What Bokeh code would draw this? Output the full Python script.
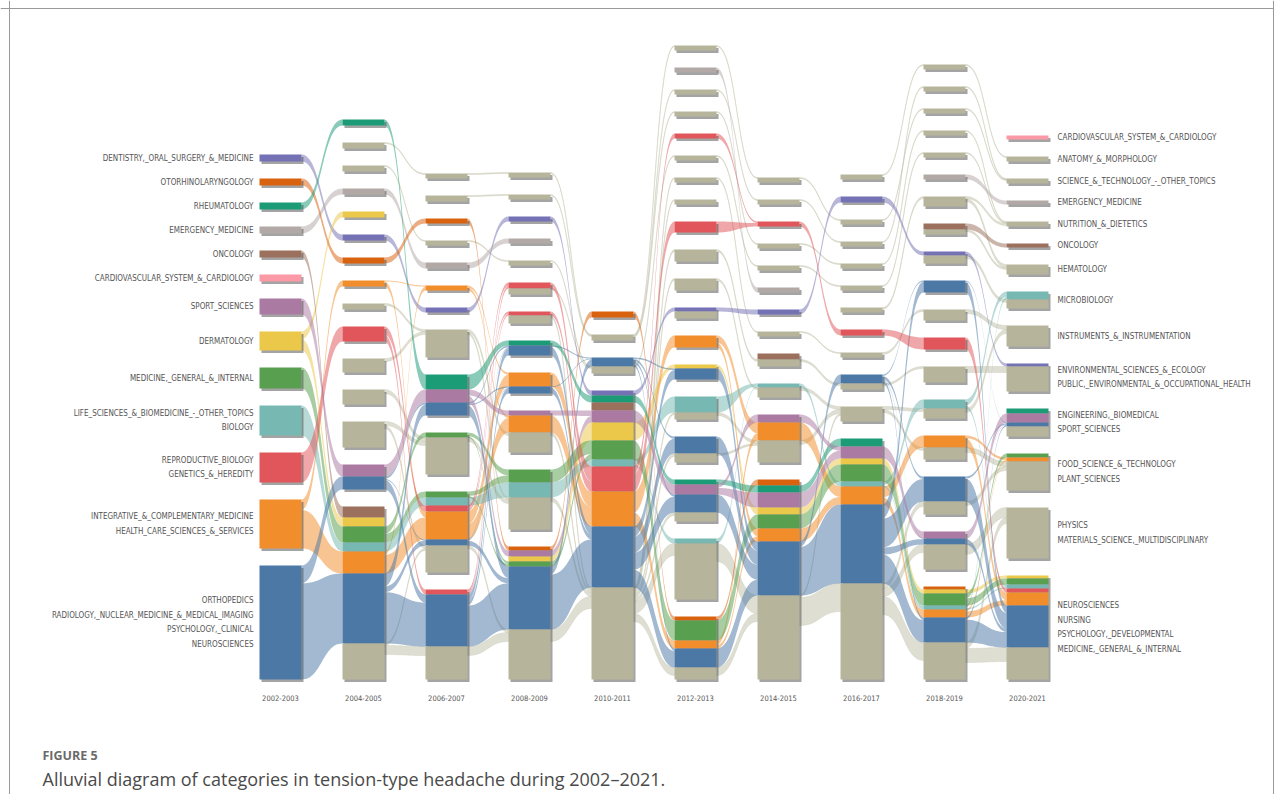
import numpy as np
from collections import defaultdict
from bokeh.plotting import figure
from bokeh.models import Range1d, ColumnDataSource, Span
from bokeh.embed import file_html
from bokeh.resources import INLINE
from bokeh.core.properties import value

# ---------------- data ----------------
periods = ["2002-2003", "2004-2005", "2006-2007", "2008-2009", "2010-2011",
           "2012-2013", "2014-2015", "2016-2017", "2018-2019", "2020-2021"]

# each node = list of (stream, size) segments, listed top to bottom
nodes_2002 = [
    [("dent", 7)], [("oto", 7)], [("rheum", 7)], [("emerg", 7)], [("onc", 7)], [("cardio", 7)],
    [("sport", 16)], [("derm", 19)], [("medgen", 21)], [("life", 30)], [("repro", 30)],
    [("integ", 49)], [("ortho", 114)],
]
nodes_2004 = [
    [("rheum", 6)], [("other", 6)], [("other", 6)], [("emerg", 6)], [("derm", 6)], [("dent", 6)],
    [("oto", 6)], [("integ", 6)], [("other", 6)], [("repro", 15)], [("other", 14)], [("other", 15)],
    [("other", 26)], [("sport", 12), ("ortho", 13)],
    [("onc", 11), ("derm", 9), ("medgen", 16), ("life", 9), ("integ", 22), ("ortho", 70), ("other", 36)],
]
nodes_2006 = [
    [("other", 5)], [("other", 6)], [("oto", 5)], [("other", 5)], [("emerg", 6)], [("integ", 5)],
    [("dent", 5)], [("other", 28)],
    [("rheum", 15), ("sport", 13), ("ortho", 13)],
    [("medgen", 5), ("other", 37)],
    [("medgen", 6), ("life", 8), ("repro", 6), ("integ", 28), ("ortho", 6), ("other", 27)],
    [("repro", 5), ("ortho", 52), ("other", 33)],
]
nodes_2008 = [
    [("other", 5)], [("other", 5)], [("dent", 5)], [("emerg", 5)], [("other", 5)],
    [("repro", 6), ("other", 6)], [("repro", 4), ("other", 8)],
    [("rheum", 5), ("ortho", 10)], [("integ", 14), ("ortho", 7)],
    [("sport", 5), ("integ", 17), ("other", 20)],
    [("medgen", 13), ("life", 15), ("other", 32)],
    [("oto", 4), ("sport", 6), ("derm", 5), ("medgen", 5), ("ortho", 63), ("other", 50)],
]
nodes_2010 = [
    [("oto", 6)], [("other", 6)], [("ortho", 9), ("other", 7)],
    [("dent", 5), ("rheum", 7), ("onc", 8), ("sport", 12), ("derm", 18), ("medgen", 19), ("life", 7),
     ("repro", 25), ("integ", 35), ("ortho", 61), ("other", 92)],
]
nodes_2012 = [
    [("other", 5)], [("emerg", 5)], [("other", 5)], [("other", 5)], [("repro", 5)], [("other", 5)],
    [("other", 5)], [("other", 5)], [("repro", 11)], [("other", 12)], [("other", 12)],
    [("dent", 4), ("other", 7)], [("integ", 12)], [("derm", 4), ("ortho", 11)],
    [("life", 16), ("other", 7)], [("ortho", 17), ("other", 9)],
    [("rheum", 5), ("sport", 10), ("ortho", 18), ("other", 9)],
    [("life", 5), ("other", 56)],
    [("oto", 4), ("medgen", 20), ("integ", 8), ("ortho", 19), ("other", 12)],
]
nodes_2014 = [
    [("other", 5)], [("other", 5)], [("repro", 5)], [("other", 5)], [("other", 5)], [("emerg", 5)],
    [("dent", 5)], [("other", 5)], [("onc", 6), ("other", 7)], [("life", 4), ("other", 10)],
    [("sport", 8), ("integ", 18), ("other", 22)],
    [("oto", 6), ("rheum", 7), ("sport", 15), ("derm", 7), ("medgen", 14), ("integ", 13),
     ("ortho", 54), ("other", 84)],
]
nodes_2016 = [
    [("other", 5)], [("dent", 6)], [("other", 5)], [("other", 5)], [("other", 5)], [("other", 5)],
    [("other", 5)], [("repro", 6)], [("other", 5)], [("ortho", 9), ("other", 6)], [("other", 15)],
    [("rheum", 8), ("sport", 12), ("derm", 6), ("medgen", 17), ("life", 5), ("integ", 18),
     ("ortho", 79), ("other", 96)],
]
nodes_2018 = [
    [("other", 5)], [("other", 5)], [("other", 5)], [("other", 5)], [("other", 5)], [("emerg", 5)],
    [("other", 10)], [("onc", 6), ("other", 5)], [("dent", 4), ("other", 8)], [("ortho", 12)],
    [("other", 11)], [("repro", 12)], [("other", 16)], [("life", 9), ("other", 10)],
    [("integ", 12), ("other", 12)], [("ortho", 25), ("other", 13)],
    [("sport", 7), ("ortho", 6), ("other", 25)],
    [("oto", 3), ("derm", 4), ("medgen", 12), ("life", 4), ("integ", 8), ("ortho", 25), ("other", 37)],
]
nodes_2020 = [
    [("cardio", 4)], [("other", 5)], [("other", 5)], [("emerg", 4)], [("other", 5)], [("onc", 4)],
    [("other", 10)], [("life", 8), ("other", 9)], [("other", 21)], [("dent", 3), ("other", 25)],
    [("rheum", 5), ("sport", 9), ("ortho", 4), ("other", 10)],
    [("medgen", 4), ("integ", 4), ("other", 29)],
    [("other", 51)],
    [("derm", 3), ("medgen", 6), ("life", 4), ("repro", 4), ("integ", 13), ("ortho", 42), ("other", 32)],
]

# unhighlighted (grey) flows: (from period index, from node, to node, size)
gray_links = [
    (1, 1, 0, 1), (1, 2, 3, 1), (1, 8, 7, 2), (1, 10, 7, 3), (1, 11, 9, 4), (1, 12, 9, 4),
    (1, 12, 10, 3), (1, 14, 11, 9), (1, 14, 10, 2),
    (2, 0, 0, 1), (2, 1, 1, 1), (2, 3, 4, 1), (2, 7, 9, 3), (2, 7, 10, 2), (2, 9, 10, 4),
    (2, 10, 11, 3), (2, 11, 11, 9),
    (3, 0, 1, 1), (3, 1, 1, 1), (3, 4, 2, 1), (3, 5, 2, 1), (3, 6, 3, 2), (3, 9, 3, 3),
    (3, 10, 3, 4), (3, 11, 3, 12),
    (4, 1, 0, 1), (4, 1, 2, 1), (4, 1, 3, 1), (4, 2, 5, 1), (4, 3, 6, 1), (4, 3, 7, 1),
    (4, 3, 9, 2), (4, 3, 10, 2), (4, 3, 14, 2), (4, 3, 15, 3), (4, 3, 16, 3), (4, 3, 17, 12),
    (4, 3, 18, 8),
    (5, 0, 0, 1), (5, 2, 1, 1), (5, 3, 3, 1), (5, 5, 4, 1), (5, 6, 7, 1), (5, 9, 8, 2),
    (5, 10, 9, 2), (5, 14, 10, 3), (5, 15, 10, 2), (5, 17, 11, 18), (5, 18, 11, 8),
    (6, 0, 2, 1), (6, 1, 3, 1), (6, 3, 4, 1), (6, 4, 5, 1), (6, 7, 8, 1), (6, 8, 9, 2),
    (6, 9, 10, 3), (6, 10, 10, 4), (6, 11, 11, 28), (6, 11, 10, 2),
    (7, 0, 0, 1), (7, 2, 2, 1), (7, 3, 1, 1), (7, 4, 3, 1), (7, 5, 4, 1), (7, 6, 6, 2),
    (7, 8, 10, 2), (7, 9, 12, 2), (7, 10, 13, 3), (7, 10, 14, 3), (7, 11, 15, 5),
    (7, 11, 16, 8), (7, 11, 17, 18),
    (8, 0, 1, 1), (8, 1, 2, 1), (8, 2, 2, 1), (8, 3, 4, 1), (8, 4, 4, 1), (8, 6, 4, 2),
    (8, 6, 6, 3), (8, 7, 6, 2), (8, 8, 7, 3), (8, 10, 8, 4), (8, 12, 9, 6), (8, 13, 8, 4),
    (8, 14, 11, 5), (8, 15, 11, 4), (8, 16, 12, 10), (8, 17, 13, 14), (8, 17, 12, 6),
]

left_labels = [
    "DENTISTRY,_ORAL_SURGERY_&_MEDICINE", "OTORHINOLARYNGOLOGY", "RHEUMATOLOGY",
    "EMERGENCY_MEDICINE", "ONCOLOGY", "CARDIOVASCULAR_SYSTEM_&_CARDIOLOGY", "SPORT_SCIENCES",
    "DERMATOLOGY", "MEDICINE,_GENERAL_&_INTERNAL",
    "LIFE_SCIENCES_&_BIOMEDICINE_-_OTHER_TOPICS\nBIOLOGY",
    "REPRODUCTIVE_BIOLOGY\nGENETICS_&_HEREDITY",
    "INTEGRATIVE_&_COMPLEMENTARY_MEDICINE\nHEALTH_CARE_SCIENCES_&_SERVICES",
    "ORTHOPEDICS\nRADIOLOGY,_NUCLEAR_MEDICINE_&_MEDICAL_IMAGING\nPSYCHOLOGY,_CLINICAL\nNEUROSCIENCES",
]
right_labels = [
    "CARDIOVASCULAR_SYSTEM_&_CARDIOLOGY", "ANATOMY_&_MORPHOLOGY",
    "SCIENCE_&_TECHNOLOGY_-_OTHER_TOPICS", "EMERGENCY_MEDICINE", "NUTRITION_&_DIETETICS",
    "ONCOLOGY", "HEMATOLOGY", "MICROBIOLOGY", "INSTRUMENTS_&_INSTRUMENTATION",
    "ENVIRONMENTAL_SCIENCES_&_ECOLOGY\nPUBLIC,_ENVIRONMENTAL_&_OCCUPATIONAL_HEALTH",
    "ENGINEERING,_BIOMEDICAL\nSPORT_SCIENCES",
    "FOOD_SCIENCE_&_TECHNOLOGY\nPLANT_SCIENCES",
    "PHYSICS\nMATERIALS_SCIENCE,_MULTIDISCIPLINARY",
    "NEUROSCIENCES\nNURSING\nPSYCHOLOGY,_DEVELOPMENTAL\nMEDICINE,_GENERAL_&_INTERNAL",
]

fig_label = "FIGURE 5"
caption = "Alluvial diagram of categories in tension-type headache during 2002\u20132021."

# ---------------- styles ----------------
stream_colors = {
    "dent": "#7471b4", "oto": "#d9620e", "rheum": "#1c9c76", "emerg": "#b2a9a6",
    "onc": "#9b705c", "cardio": "#fb9aa6", "sport": "#ab7aa3", "derm": "#ebc84a",
    "medgen": "#58a04f", "life": "#77b8b2", "repro": "#e0565b", "integ": "#f28d2c",
    "ortho": "#4c78a6", "other": "#b6b59c",
}
NARROW = "DejaVu Sans Condensed"

columns = [nodes_2002, nodes_2004, nodes_2006, nodes_2008, nodes_2010,
           nodes_2012, nodes_2014, nodes_2016, nodes_2018, nodes_2020]

W, H = 1274, 794
X0, DX, BW, GAP, BASE = 280, 83, 42, 17.0, 679

p = figure(width=W, height=H, x_range=Range1d(0, W), y_range=Range1d(H, 0),
           output_backend="svg", toolbar_location=None, min_border=0)
p.axis.visible = False
p.grid.visible = False
p.outline_line_color = None

# ---------------- layout ----------------
layout = []
for c, nodes in enumerate(columns):
    sizes = [sum(s for _, s in n) for n in nodes]
    total = sum(sizes) + GAP * (len(nodes) - 1)
    y = BASE - total
    col = []
    for n in nodes:
        segs = []
        yy = y
        for key, s in n:
            segs.append([key, yy, yy + s])
            yy += s
        col.append(dict(top=y, bottom=yy, segs=segs))
        y = yy + GAP
    layout.append(col)


def xc(c):
    return X0 + DX * c


t = np.linspace(0, 1, 30)


def band(x0, a0, b0, x1, a1, b1):
    xm = (x0 + x1) / 2
    bx = (1 - t) ** 3 * x0 + 3 * (1 - t) ** 2 * t * xm + 3 * (1 - t) * t ** 2 * xm + t ** 3 * x1

    def by(u, v):
        return (1 - t) ** 3 * u + 3 * (1 - t) ** 2 * t * u + 3 * (1 - t) * t ** 2 * v + t ** 3 * v

    top = by(a0, a1)
    bot = by(b0, b1)
    return list(np.concatenate([bx, bx[::-1]])), list(np.concatenate([top, bot[::-1]]))


# grey flows
gxs, gys = [], []
links = []
for (c, i, j, v) in gray_links:
    sn, dn = layout[c][i], layout[c + 1][j]
    s = next((sg for sg in sn["segs"] if sg[0] == "other"), sn["segs"][-1])
    d = next((sg for sg in dn["segs"] if sg[0] == "other"), dn["segs"][-1])
    links.append(dict(c=c, s=s, d=d, v=v))
by_src, by_dst = defaultdict(list), defaultdict(list)
for k, L in enumerate(links):
    by_src[(L["c"], id(L["s"]))].append(k)
    by_dst[(L["c"] + 1, id(L["d"]))].append(k)
spos, dpos = {}, {}
for key, ks in by_src.items():
    ks.sort(key=lambda k: links[k]["d"][1])
    seg = links[ks[0]]["s"]
    tot = sum(links[k]["v"] for k in ks)
    f = min(1.0, (seg[2] - seg[1]) / tot)
    off = seg[1]
    for k in ks:
        w = links[k]["v"] * f
        spos[k] = (off, off + w)
        off += w
for key, ks in by_dst.items():
    ks.sort(key=lambda k: links[k]["s"][1])
    seg = links[ks[0]]["d"]
    tot = sum(links[k]["v"] for k in ks)
    f = min(1.0, (seg[2] - seg[1]) / tot)
    off = seg[1]
    for k in ks:
        w = links[k]["v"] * f
        dpos[k] = (off, off + w)
        off += w
for k, L in enumerate(links):
    bx, byy = band(xc(L["c"]) + BW / 2, spos[k][0], spos[k][1],
                   xc(L["c"] + 1) - BW / 2, dpos[k][0], dpos[k][1])
    gxs.append(bx)
    gys.append(byy)
p.patches(xs=gxs, ys=gys, fill_color="#c3c3af", fill_alpha=0.55,
          line_color="#c3c3af", line_alpha=0.6, line_width=0.6)

# coloured flows
cxs, cys, ccol = [], [], []
for c in range(len(columns) - 1):
    keys = sorted(set(k for n in columns[c] for k, _ in n) & set(k for n in columns[c + 1] for k, _ in n))
    for key in keys:
        if key == "other":
            continue
        srcs = [sg for nd in layout[c] for sg in nd["segs"] if sg[0] == key]
        dsts = [sg for nd in layout[c + 1] for sg in nd["segs"] if sg[0] == key]
        S = sum(s[2] - s[1] for s in srcs)
        D = sum(d[2] - d[1] for d in dsts)
        sp, dp = {}, {}
        for i, s in enumerate(srcs):
            off = s[1]
            for j, d in enumerate(dsts):
                w = (s[2] - s[1]) * (d[2] - d[1]) / D
                sp[(i, j)] = (off, off + w)
                off += w
        for j, d in enumerate(dsts):
            off = d[1]
            for i, s in enumerate(srcs):
                w = (d[2] - d[1]) * (s[2] - s[1]) / S
                dp[(i, j)] = (off, off + w)
                off += w
        for (i, j) in sp:
            bx, byy = band(xc(c) + BW / 2, sp[(i, j)][0], sp[(i, j)][1],
                           xc(c + 1) - BW / 2, dp[(i, j)][0], dp[(i, j)][1])
            cxs.append(bx)
            cys.append(byy)
            ccol.append(stream_colors[key])
p.patches(xs="xs", ys="ys", fill_color="color", fill_alpha=0.52, line_color=None,
          source=ColumnDataSource(dict(xs=cxs, ys=cys, color=ccol)))

# node shadows
sh = dict(l=[], r=[], t=[], b=[])
for c, col in enumerate(layout):
    for nd in col:
        sh["l"].append(xc(c) - BW / 2 + 2)
        sh["r"].append(xc(c) + BW / 2 + 2)
        sh["t"].append(nd["top"] + 2.5)
        sh["b"].append(nd["bottom"] + 2.5)
p.quad(left="l", right="r", top="t", bottom="b", source=ColumnDataSource(sh),
       fill_color="#4a4a4a", fill_alpha=0.5, line_color=None)

# node segments
sg = dict(l=[], r=[], t=[], b=[], color=[])
for c, col in enumerate(layout):
    for nd in col:
        for key, y0, y1 in nd["segs"]:
            sg["l"].append(xc(c) - BW / 2)
            sg["r"].append(xc(c) + BW / 2)
            sg["t"].append(y0)
            sg["b"].append(y1)
            sg["color"].append(stream_colors[key])
p.quad(left="l", right="r", top="t", bottom="b", color="color", source=ColumnDataSource(sg),
       line_color=None)

# labels
LC = "#555555"
lx = [xc(0) - BW / 2 - 6] * len(left_labels)
ly = [(nd["top"] + nd["bottom"]) / 2 for nd in layout[0]]
p.text(x=lx, y=ly, text=left_labels, text_align="right", text_baseline="middle",
       text_font=value(NARROW), text_font_size="8px", text_color=LC, text_line_height=1.6)
last = len(columns) - 1
rx = [xc(last) + BW / 2 + 9] * len(right_labels)
ry = [(nd["top"] + nd["bottom"]) / 2 for nd in layout[last]]
p.text(x=rx, y=ry, text=right_labels, text_align="left", text_baseline="middle",
       text_font=value(NARROW), text_font_size="8px", text_color=LC, text_line_height=1.6)
p.text(x=[xc(c) for c in range(len(periods))], y=[BASE + 18] * len(periods), text=periods,
       text_align="center", text_baseline="middle", text_font=value(NARROW),
       text_font_size="7.5px", text_color=LC)

# caption
p.text(x=[42], y=[755], text=[fig_label], text_align="left", text_baseline="middle",
       text_font=value("Open Sans"), text_font_style="bold", text_font_size="12.5px",
       text_color="#6a6a6a")
p.text(x=[42], y=[778], text=[caption], text_align="left", text_baseline="middle",
       text_font=value("Open Sans"), text_font_size="18px", text_color="#4a4a4a")

# card frame
p.add_layout(Span(location=9, dimension="height", line_color="#9a9a9a", line_width=1))
p.add_layout(Span(location=1273, dimension="height", line_color="#9a9a9a", line_width=1))
p.add_layout(Span(location=8, dimension="width", line_color="#9a9a9a", line_width=1))

open("out.html", "w").write(file_html(p, INLINE))
